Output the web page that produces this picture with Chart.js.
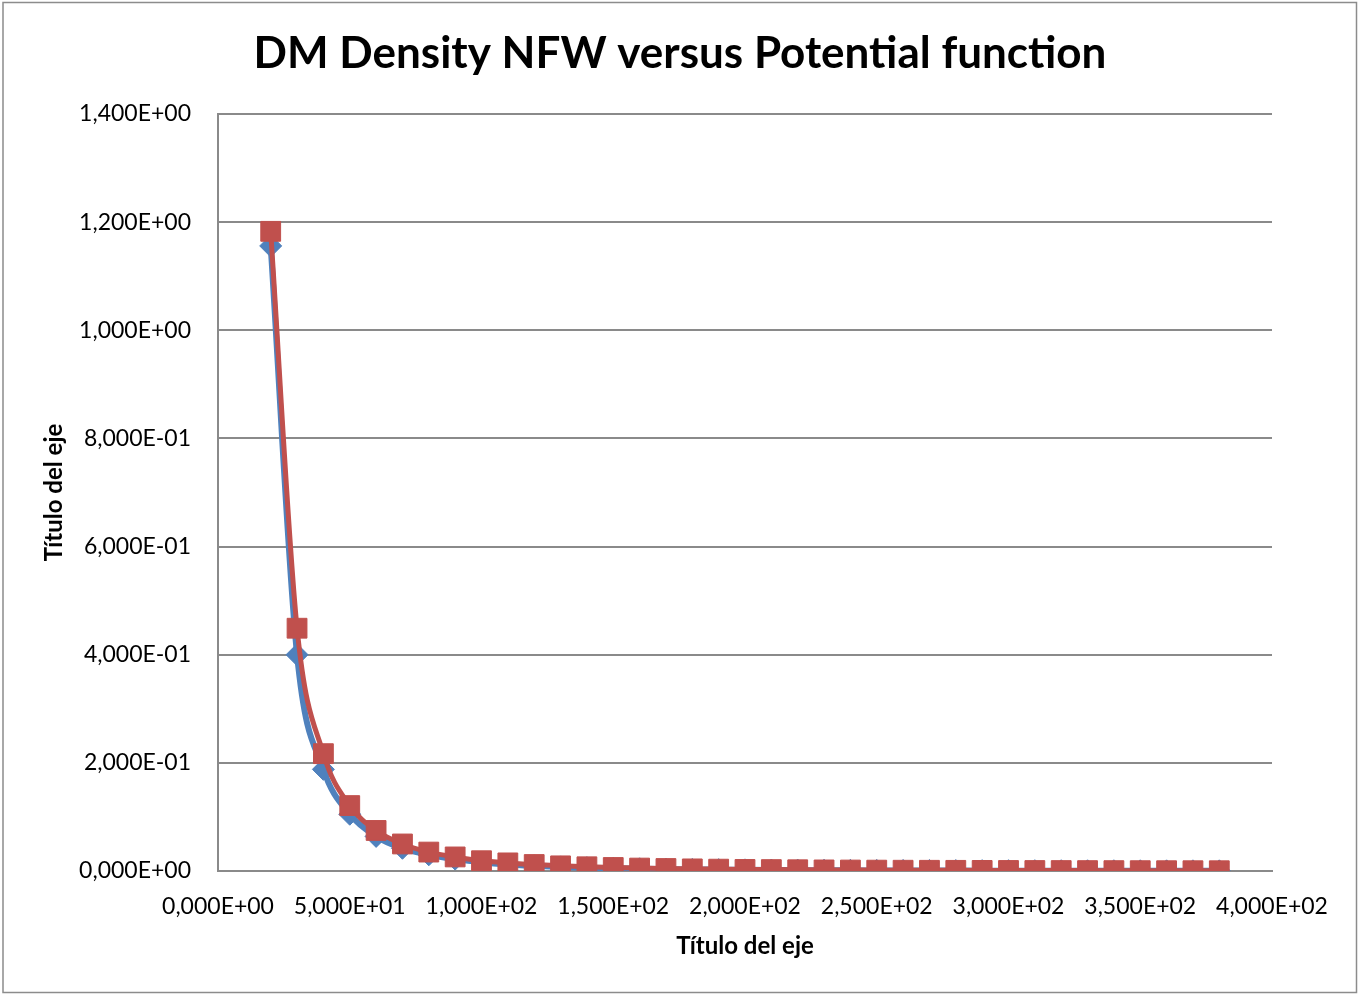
<!DOCTYPE html>
<html>
<head>
<meta charset="utf-8">
<script src="https://cdn.jsdelivr.net/npm/chart.js@4/dist/chart.umd.min.js"></script>
<style>
  html, body { margin: 0; padding: 0; background: #fff; }
  #wrap { width: 1360px; height: 994px; }
</style>
</head>
<body>
<div id="wrap"><canvas id="densityChart" width="1360" height="994"></canvas></div>
<script>
// Radius values
const radius = [20, 30, 40, 50, 60, 70, 80, 90, 100, 110, 120, 130, 140, 150, 160, 170, 180, 190, 200,
  210, 220, 230, 240, 250, 260, 270, 280, 290, 300, 310, 320, 330, 340, 350, 360, 370, 380];

// NFW dark matter density
const densityNFW = [1.156, 0.400, 0.188, 0.105, 0.064, 0.042, 0.030, 0.022, 0.016, 0.012, 0.0095,
  0.0076, 0.0061, 0.0050, 0.0041, 0.0035, 0.0029, 0.0025, 0.0021, 0.0018, 0.0016, 0.0014, 0.0012,
  0.0011, 0.00096, 0.00085, 0.00076, 0.00068, 0.00061, 0.00055, 0.0005, 0.00045, 0.00041, 0.00037,
  0.00034, 0.00031, 0.00029];

// Density from the potential function
const densityPotential = [1.183, 0.449, 0.217, 0.121, 0.075, 0.050, 0.035, 0.026, 0.019, 0.015, 0.012,
  0.0095, 0.0078, 0.0065, 0.0054, 0.0046, 0.0039, 0.0034, 0.0029, 0.0026, 0.0023, 0.0020, 0.0018,
  0.0016, 0.0014, 0.0013, 0.0012, 0.0011, 0.00096, 0.00087, 0.0008, 0.00073, 0.00067, 0.00061,
  0.00056, 0.00052, 0.00048];

const xTicks = [0, 50, 100, 150, 200, 250, 300, 350, 400];
const yTicks = [0, 0.2, 0.4, 0.6, 0.8, 1.0, 1.2, 1.4];

const titleText = "DM Density NFW versus Potential function";
const axisTitle = "Título del eje";

const fontFamily = "Lato, 'Open Sans', sans-serif";
const gridColor = "#8a8a8a";

// 1,400E+00 style labels
function sciLabel(value) {
  const parts = Number(value).toExponential(3).split("e");
  const exp = parseInt(parts[1], 10);
  const sign = exp < 0 ? "-" : "+";
  return parts[0].replace(".", ",") + "E" + sign + String(Math.abs(exp)).padStart(2, "0");
}

function toPoints(ys) {
  return radius.map((x, i) => ({ x: x, y: ys[i] }));
}

// White background, outer frame and the centred title
const framePlugin = {
  id: "frame",
  beforeDraw(chart) {
    const ctx = chart.ctx;
    ctx.save();
    ctx.fillStyle = "#fff";
    ctx.fillRect(0, 0, chart.width, chart.height);
    ctx.strokeStyle = "#8c8c8c";
    ctx.lineWidth = 1.5;
    ctx.strokeRect(3, 2.5, chart.width - 6.5, chart.height - 4);

    ctx.fillStyle = "#000";
    ctx.font = "bold 44px " + fontFamily;
    ctx.textAlign = "center";
    ctx.textBaseline = "middle";
    ctx.fillText(titleText, chart.width / 2, 54);
    ctx.restore();
  },
};

const ctx = document.getElementById("densityChart").getContext("2d");

new Chart(ctx, {
  type: "line",
  data: {
    datasets: [
      {
        label: "Potential",
        data: toPoints(densityPotential),
        borderColor: "#C0504D",
        backgroundColor: "#C0504D",
        borderWidth: 5,
        pointStyle: "rect",
        pointRadius: 14,
        pointBorderWidth: 1,
        cubicInterpolationMode: "monotone",
        order: 0,
      },
      {
        label: "NFW",
        data: toPoints(densityNFW),
        borderColor: "#4F81BD",
        backgroundColor: "#4F81BD",
        borderWidth: 6,
        pointStyle: "rectRot",
        pointRadius: 11,
        pointBorderWidth: 1,
        cubicInterpolationMode: "monotone",
        order: 1,
      },
    ],
  },
  options: {
    responsive: false,
    animation: false,
    events: [],
    layout: {
      padding: { left: 0, right: 88, top: 114, bottom: 0 },
    },
    plugins: {
      legend: { display: false },
      tooltip: { enabled: false },
      title: { display: false },
    },
    scales: {
      x: {
        type: "linear",
        min: 0,
        max: 400,
        afterBuildTicks(scale) {
          scale.ticks = xTicks.map((v) => ({ value: v }));
        },
        afterFit(scale) {
          scale.height = 123;
        },
        grid: { display: false, drawTicks: false },
        border: { display: true, color: gridColor, width: 2 },
        ticks: {
          padding: 22,
          color: "#000",
          maxRotation: 0,
          font: { family: fontFamily, size: 23 },
          callback: (v) => sciLabel(v),
        },
        title: {
          display: true,
          text: axisTitle,
          color: "#000",
          font: { family: fontFamily, size: 24, weight: "bold" },
          padding: { top: 0, bottom: 33 },
        },
      },
      y: {
        type: "linear",
        min: 0,
        max: 1.4,
        afterBuildTicks(scale) {
          scale.ticks = yTicks.map((v) => ({ value: v }));
        },
        afterFit(scale) {
          scale.width = 218;
        },
        grid: { color: gridColor, lineWidth: 2, drawTicks: false },
        border: { display: true, color: gridColor, width: 2 },
        ticks: {
          padding: 27,
          color: "#000",
          font: { family: fontFamily, size: 23 },
          callback: (v) => sciLabel(v),
        },
        title: {
          display: true,
          text: axisTitle,
          color: "#000",
          font: { family: fontFamily, size: 24, weight: "bold" },
          padding: { top: 40, bottom: 0 },
        },
      },
    },
  },
  plugins: [framePlugin],
});
</script>
</body>
</html>
